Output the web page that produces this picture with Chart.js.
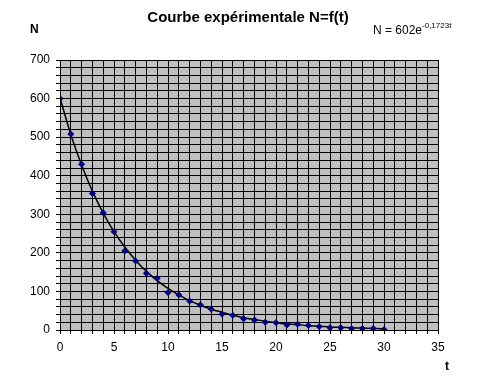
<!DOCTYPE html>
<html>
<head>
<meta charset="utf-8">
<script src="https://cdn.jsdelivr.net/npm/chart.js@4/dist/chart.umd.min.js"></script>
<style>
  body { margin: 0; background: #fff; }
  #wrap { width: 490px; height: 376px; }
</style>
</head>
<body>
<div id="wrap"><canvas id="courbe"></canvas></div>
<script>
const tValues = [0, 1, 2, 3, 4, 5, 6, 7, 8, 9, 10, 11, 12, 13, 14, 15, 16, 17, 18, 19, 20, 21, 22, 23, 24, 25, 26, 27, 28, 29, 30];
const nValues = [600, 508, 430, 354, 304, 255, 205, 179, 147, 134, 97, 91, 75, 65, 54, 41, 38, 29, 26, 20, 19, 13, 15, 12, 9, 6, 6, 4, 4, 4, 1];
const trendValues = [602, 507, 428, 360, 303, 255, 215, 181, 152, 128, 108, 91, 76, 64, 54, 46, 38, 32, 27, 23, 19, 16, 14, 11, 10, 8, 7, 6, 5, 4, 3];

const xTickLabels = [0, 5, 10, 15, 20, 25, 30, 35];
const yTickLabels = [0, 100, 200, 300, 400, 500, 600, 700];

const titleText = 'Courbe expérimentale N=f(t)';
const equationText = 'N = 602e';
const equationExp = '-0,1723t';

// fond gris de la zone de tracé + textes libres
const decorPlugin = {
    id: 'decor',
    beforeDraw(chart) {
        const ctx = chart.ctx;
        const a = chart.chartArea;
        ctx.save();
        ctx.fillStyle = '#c0c0c0';
        ctx.fillRect(a.left, a.top, a.right - a.left, a.bottom - a.top);
        ctx.restore();
    },
    afterDraw(chart) {
        const ctx = chart.ctx;
        const a = chart.chartArea;
        ctx.save();
        ctx.strokeStyle = '#000';
        ctx.lineWidth = 1;
        ctx.strokeRect(a.left + 0.5, a.top + 0.5, a.right - a.left, a.bottom - a.top);

        ctx.fillStyle = '#000';
        ctx.textBaseline = 'middle';
        ctx.textAlign = 'center';
        ctx.font = 'bold 15px "Liberation Sans", Arial, sans-serif';
        ctx.fillText(titleText, 248, 18);

        ctx.font = 'bold 12px "Liberation Sans", Arial, sans-serif';
        ctx.textAlign = 'left';
        ctx.fillText('N', 30, 30);
        ctx.fillText('t', 445, 367);

        ctx.font = '12px "Liberation Sans", Arial, sans-serif';
        ctx.textBaseline = 'alphabetic';
        ctx.fillText(equationText, 373, 34);
        const w = ctx.measureText(equationText).width;
        ctx.font = '8px "Liberation Sans", Arial, sans-serif';
        ctx.fillText(equationExp, 373 + w, 28);
        ctx.restore();
    }
};

new Chart(document.getElementById('courbe'), {
    type: 'scatter',
    data: {
        datasets: [
            {
                label: 'N',
                data: tValues.map((t, i) => ({ x: t, y: nValues[i] })),
                pointStyle: 'rectRot',
                pointRadius: 3,
                pointBackgroundColor: '#000080',
                pointBorderColor: '#000080',
                showLine: false,
                order: 0
            },
            {
                label: 'tendance',
                data: tValues.map((t, i) => ({ x: t, y: trendValues[i] })),
                showLine: true,
                borderColor: '#000',
                borderWidth: 1.5,
                pointRadius: 0,
                cubicInterpolationMode: 'monotone',
                order: 1
            }
        ]
    },
    options: {
        responsive: true,
        maintainAspectRatio: false,
        animation: false,
        layout: {
            padding: { top: 60, right: 52, left: 0, bottom: 0 }
        },
        plugins: {
            legend: { display: false },
            title: { display: false },
            tooltip: { enabled: false }
        },
        scales: {
            x: {
                type: 'linear',
                min: 0,
                max: 35,
                afterFit(scale) { scale.height = 46; },
                grid: {
                    color: '#000',
                    lineWidth: 1,
                    tickLength: 4
                },
                border: { color: '#000' },
                ticks: {
                    stepSize: 1,
                    autoSkip: false,
                    maxRotation: 0,
                    padding: 6,
                    color: '#000',
                    font: { family: '"Liberation Sans", Arial, sans-serif', size: 12 },
                    callback: v => xTickLabels.includes(v) ? String(v) : ''
                }
            },
            y: {
                type: 'linear',
                min: 0,
                max: 700,
                afterFit(scale) { scale.width = 60; },
                grid: {
                    color: '#000',
                    lineWidth: 1,
                    tickLength: 4
                },
                border: { color: '#000' },
                ticks: {
                    stepSize: 20,
                    autoSkip: false,
                    padding: 6,
                    color: '#000',
                    font: { family: '"Liberation Sans", Arial, sans-serif', size: 12 },
                    callback: v => yTickLabels.includes(v) ? String(v) : ''
                }
            }
        }
    },
    plugins: [decorPlugin]
});
</script>
</body>
</html>
